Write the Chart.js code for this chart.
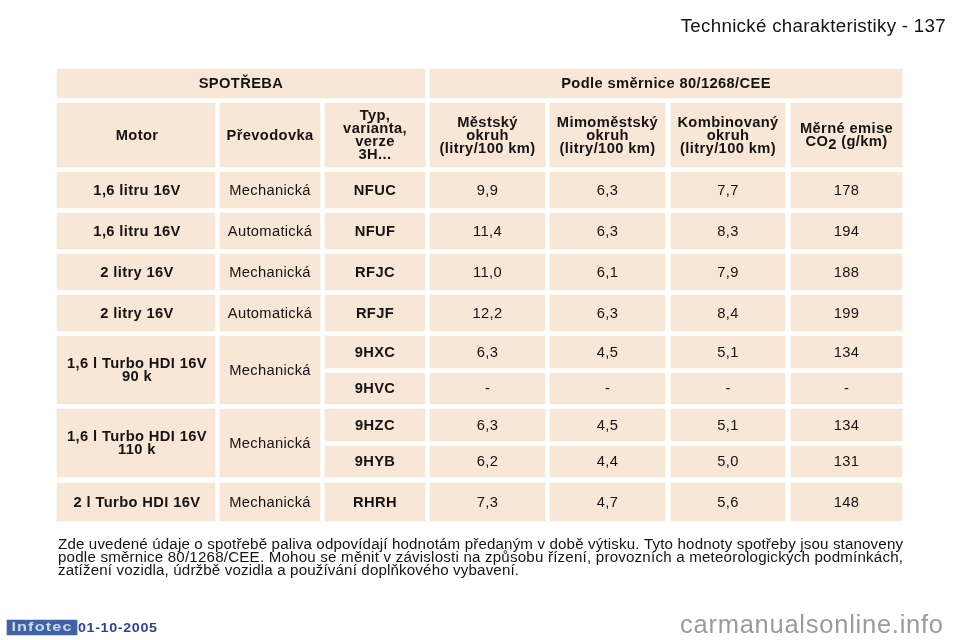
<!DOCTYPE html>
<html><head><meta charset="utf-8">
<style>html,body{margin:0;padding:0;background:#fff}canvas{display:block}</style>
<script src="https://cdn.jsdelivr.net/npm/chart.js@4"></script>
</head><body><canvas id="c" width="960" height="640"></canvas>
<script>
// ---- table content ----
const pageTitle = "Technické charakteristiky - 137";
const groupHeaders = ["SPOTŘEBA", "Podle směrnice 80/1268/CEE"];
const columnHeaders = [["Motor"], ["Převodovka"], ["Typ,", "varianta,", "verze", "3H..."],
  ["Městský", "okruh", "(litry/100 km)"], ["Mimoměstský", "okruh", "(litry/100 km)"],
  ["Kombinovaný", "okruh", "(litry/100 km)"], ["Měrné emise", "CO2 (g/km)"]];
const motors = [["1,6 litru 16V"], ["1,6 litru 16V"], ["2 litry 16V"], ["2 litry 16V"],
  ["1,6 l Turbo HDI 16V", "90 k"], ["1,6 l Turbo HDI 16V", "110 k"], ["2 l Turbo HDI 16V"]];
const motorSpans = [1, 1, 1, 1, 2, 2, 1];
const gearboxes = ["Mechanická", "Automatická", "Mechanická", "Automatická", "Mechanická", "Mechanická", "Mechanická"];
const types = ["NFUC", "NFUF", "RFJC", "RFJF", "9HXC", "9HVC", "9HZC", "9HYB", "RHRH"];
const urban = [9.9, 11.4, 11.0, 12.2, 6.3, null, 6.3, 6.2, 7.3];
const extraUrban = [6.3, 6.3, 6.1, 6.3, 4.5, null, 4.5, 4.4, 4.7];
const combined = [7.7, 8.3, 7.9, 8.4, 5.1, null, 5.1, 5.0, 5.6];
const co2 = [178, 194, 188, 199, 134, null, 134, 131, 148];
const noteLines = [
  "Zde uvedené údaje o spotřebě paliva odpovídají hodnotám předaným v době výtisku. Tyto hodnoty spotřeby jsou stanoveny",
  "podle směrnice 80/1268/CEE. Mohou se měnit v závislosti na způsobu řízení, provozních a meteorologických podmínkách,",
  "zatížení vozidla, údržbě vozidla a používání doplňkového vybavení."];
const badgeText = "Infotec";
const dateText = "01-10-2005";
const watermark = "carmanualsonline.info";

// ---- layout (scale units equal page pixels) ----
const colEdges = [[57,215],[220,320],[325,425],[430,545],[550,665],[671,785],[791,902]];
const groupEdges = [[57,425],[430,902]];
const groupBand = [69,98];
const headBand = [103,167];
const rowBands = [[172,208],[213,249],[254,290],[295,331],[336,368],[373,404],[409,441],[446,477],[483,521]];
const CELL = "#f8e6d7", INK = "#141414";
const BOLD = 'bold 14px "Liberation Sans"', REG = '14px "Liberation Sans"';
const CELL_SX = 1.05;
const num1 = v => v === null ? "-" : v.toFixed(1).replace(".", ",");
const numI = v => v === null ? "-" : String(v);

const mid = b => (b[0] + b[1]) / 2;
const cells = [];
const add = (col, band, lines, font) => cells.push({col, band, lines, font});
groupHeaders.forEach((t,i) => add(groupEdges[i], groupBand, [t], BOLD));
columnHeaders.forEach((l,i) => add(colEdges[i], headBand, l, BOLD));
let r = 0;
motors.forEach((m,i) => {
  const band = [rowBands[r][0], rowBands[r + motorSpans[i] - 1][1]];
  add(colEdges[0], band, m, BOLD);
  add(colEdges[1], band, [gearboxes[i]], REG);
  r += motorSpans[i];
});
rowBands.forEach((b,i) => {
  add(colEdges[2], b, [types[i]], BOLD);
  add(colEdges[3], b, [num1(urban[i])], REG);
  add(colEdges[4], b, [num1(extraUrban[i])], REG);
  add(colEdges[5], b, [num1(combined[i])], REG);
  add(colEdges[6], b, [numI(co2[i])], REG);
});

const byCol = new Map();
cells.forEach(c => {
  const k = c.col.join("-");
  if (!byCol.has(k)) byCol.set(k, {col:c.col, items:[]});
  byCol.get(k).items.push(c);
});
const datasets = [...byCol.values()].map(g => ({
  data: g.items.map(c => ({x: mid(c.col), y: c.band})),
  barThickness: g.col[1] - g.col[0],
  backgroundColor: CELL, borderWidth: 0, grouped: false
}));
datasets.push({data:[{x:42,y:[620,635]}], barThickness:70, backgroundColor:"#3f63a6", borderWidth:0, grouped:false});

function put(ctx, text, x, y, o) {
  ctx.save();
  ctx.font = o.font; ctx.fillStyle = o.color || INK; ctx.textAlign = o.align || "left"; ctx.textBaseline = "middle";
  const sx = o.sx || 1;
  ctx.letterSpacing = "0px";
  let ls = o.spacing || 0;
  if (o.width) ls = (o.width / sx - ctx.measureText(text).width) / (text.length - 1);
  ctx.letterSpacing = ls + "px";
  ctx.translate(x, y); ctx.scale(sx, 1);
  ctx.fillText(text, 0, 0);
  ctx.restore();
}
const tablePlugin = {
  id: "tableText",
  afterDatasetsDraw(chart) {
    const ctx = chart.ctx, X = chart.scales.x, Y = chart.scales.y;
    const px = v => X.getPixelForValue(v), py = v => Y.getPixelForValue(v);
    ctx.save();
    cells.forEach(c => {
      const shift = c.col === colEdges[0] ? 1 : 0;
      const cx = px(mid(c.col)) + shift, cy = py(mid(c.band)) + 1;
      const sp = c.font === BOLD ? 0.35 : 0.3;
      const style = {font: c.font, sx: CELL_SX, spacing: sp};
      c.lines.forEach((ln, i) => {
        const y = cy + (i - (c.lines.length - 1) / 2) * 13;
        if (ln.startsWith("CO2")) {
          ctx.save();
          ctx.font = c.font; ctx.letterSpacing = sp + "px";
          const a = "CO", b = "2", d = ln.slice(3);
          const wa = ctx.measureText(a).width * CELL_SX, wb = ctx.measureText(b).width * CELL_SX, wd = ctx.measureText(d).width * CELL_SX;
          ctx.restore();
          const x0 = cx - (wa + wb + wd) / 2;
          put(ctx, a, x0, y, style);
          put(ctx, b, x0 + wa, y + 3, style);
          put(ctx, d, x0 + wa + wb, y, style);
        } else put(ctx, ln, cx, y, {...style, align: "center"});
      });
    });
    put(ctx, pageTitle, px(946), py(27.5), {font: '17.5px "Liberation Sans"', align: "right", sx: 1.07, width: 265});
    noteLines.forEach((t, i) => {
      put(ctx, t, px(58), py(545.5 + i * 13), {font: '14px "Liberation Sans"', sx: 1.08, width: i < 2 ? 845 : 461});
    });
    put(ctx, badgeText, px(42), py(628), {font: 'bold 12.5px "Liberation Sans"', color: "#cfd8ea", align: "center", sx: 1.3, width: 60});
    put(ctx, dateText, px(78), py(628.5), {font: 'bold 13px "Liberation Sans"', color: "#2f4490", sx: 1.1, width: 79});
    put(ctx, watermark, px(680), py(626), {font: '25.5px "Liberation Sans"', color: "#9b9b9b", width: 263});
    ctx.restore();
  }
};
new Chart(document.getElementById("c"), {
  type: "bar",
  data: {datasets},
  plugins: [tablePlugin],
  options: {
    responsive: false, animation: false, devicePixelRatio: 1,
    layout: {padding: 0},
    plugins: {legend: {display: false}, tooltip: {enabled: false}, title: {display: false}},
    scales: {
      x: {type: "linear", min: 0, max: 960, offset: false, display: false},
      y: {type: "linear", min: 0, max: 640, reverse: true, display: false}
    }
  }
});
</script></body></html>
